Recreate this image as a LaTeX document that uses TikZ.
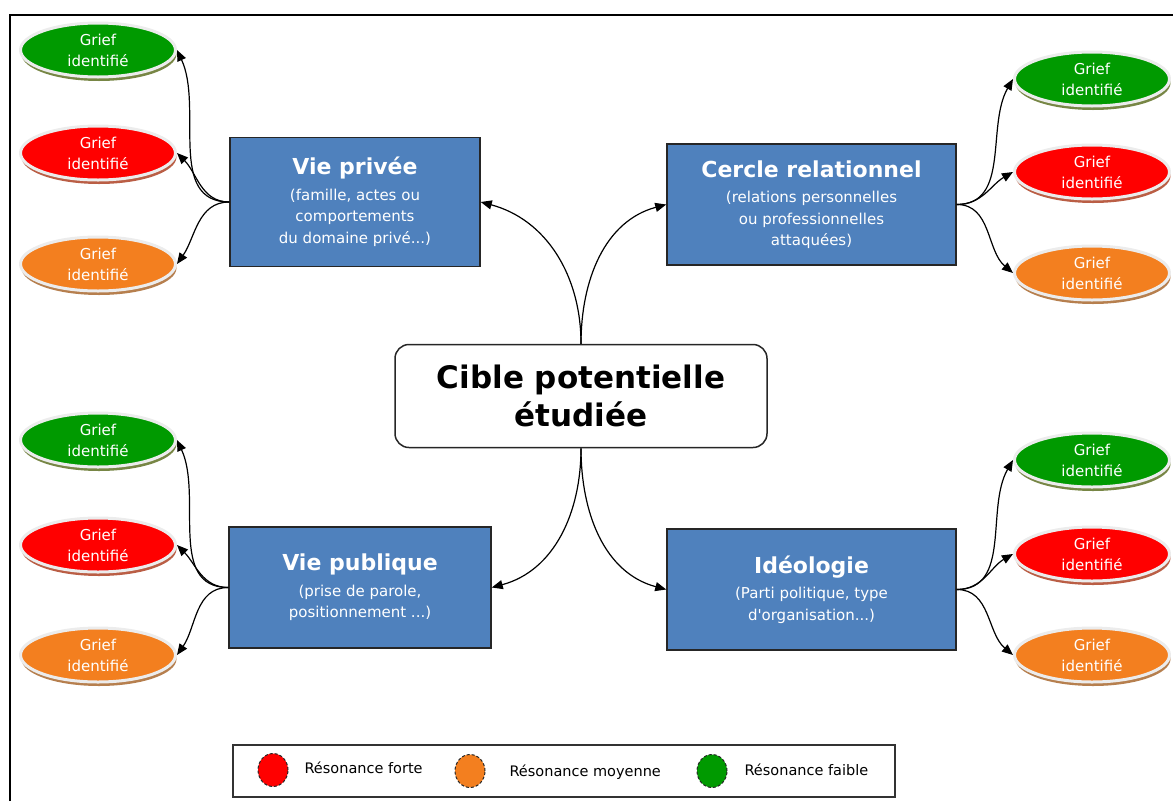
\documentclass[tikz,border=0pt]{standalone}
\usepackage{fontspec}
\setmainfont{DejaVu Sans}[Ligatures=TeXOff]
\usetikzlibrary{shapes.geometric,arrows.meta,shadows}
\definecolor{boxblue}{HTML}{4F81BD}
\definecolor{griefgreen}{HTML}{009A00}
\definecolor{griefred}{HTML}{FF0000}
\definecolor{grieforange}{HTML}{F37F1F}
\definecolor{halo}{HTML}{ECECEC}
\begin{document}
\begin{tikzpicture}[x=1pt,y=1pt,
            bluebox/.style={draw=black!85,fill=boxblue,line width=1.5pt,text=white,align=center,inner sep=4pt,font=\fontsize{15}{21.5}\selectfont},
            grief/.style={ellipse,draw=halo,line width=3pt,fill=#1,text=white,align=center,inner sep=0pt,
                minimum width=155,minimum height=54,font=\fontsize{15}{21}\selectfont,
                drop shadow={shadow xshift=1pt,shadow yshift=-4pt,fill=#1!40!brown!65!gray,opacity=1}},
            arr/.style={-{Triangle[length=11pt,width=9pt]},line width=1.2pt},
            dot/.style={ellipse,draw=black!85,densely dashed,line width=1pt,minimum width=30,minimum height=33,inner sep=0pt,fill=#1},
            lgtext/.style={anchor=west,font=\fontsize{14.5}{16}\selectfont},
        ]
    \useasboundingbox (0,0) rectangle (1173,-801);
    \draw[line width=2pt] (10,-801) -- (10,-15) -- (1173,-15);

    \node[draw=black!85,line width=1.5pt,rounded corners=14pt,minimum width=372,minimum height=103,align=center,
          font=\fontsize{31}{38}\selectfont\bfseries] (cible) at (581,-396) {Cible potentielle\\étudiée};

    \node[bluebox,minimum width=250,minimum height=129] (prive) at (355,-202) {{\fontsize{22}{26}\selectfont\bfseries Vie privée}\\[4pt] (famille, actes ou\\ comportements\\ du domaine privé...)};
    \node[bluebox,minimum width=289,minimum height=121] (cercle) at (811.5,-204.5) {{\fontsize{22}{26}\selectfont\bfseries Cercle relationnel}\\[4pt] (relations personnelles\\ ou professionnelles\\ attaquées)};
    \node[bluebox,minimum width=262,minimum height=121] (public) at (360,-587.5) {{\fontsize{22}{26}\selectfont\bfseries Vie publique}\\[4pt] (prise de parole,\\ positionnement ...)};
    \node[bluebox,minimum width=289,minimum height=121] (ideo) at (811.5,-589.5) {{\fontsize{22}{26}\selectfont\bfseries Idéologie}\\[4pt] (Parti politique, type\\ d'organisation...)};

    \draw[arr] (cible.north) to[out=90,in=-15] (prive.east);
    \draw[arr] (cible.north) to[out=90,in=195] (cercle.west);
    \draw[arr] (cible.south) to[out=-90,in=15] (public.east);
    \draw[arr] (cible.south) to[out=-90,in=165] (ideo.west);

    % vie privee
    \node[grief=griefgreen] (gpv1) at (98,-50) {Grief\\identifié};
    \node[grief=griefred] (gpv2) at (98,-153) {Grief\\identifié};
    \node[grief=grieforange] (gpv3) at (98,-264) {Grief\\identifié};
    \draw[arr] (prive.west) to[out=180,in=-65] (gpv1.east);
    \draw[arr] (prive.west) to[out=180,in=-45] (gpv2.east);
    \draw[arr] (prive.west) to[out=180,in=55] (gpv3.east);

    % cercle relationnel
    \node[grief=griefgreen] (gcr1) at (1092,-79) {Grief\\identifié};
    \node[grief=griefred] (gcr2) at (1092,-172) {Grief\\identifié};
    \node[grief=grieforange] (gcr3) at (1092,-273) {Grief\\identifié};
    \draw[arr] (cercle.east) to[out=0,in=-120] (gcr1.west);
    \draw[arr] (cercle.east) to[out=0,in=210] (gcr2.west);
    \draw[arr] (cercle.east) to[out=0,in=140] (gcr3.west);

    % vie publique
    \node[grief=griefgreen] (gpu1) at (98,-440) {Grief\\identifié};
    \node[grief=griefred] (gpu2) at (98,-545) {Grief\\identifié};
    \node[grief=grieforange] (gpu3) at (98,-655) {Grief\\identifié};
    \draw[arr] (public.west) to[out=180,in=-65] (gpu1.east);
    \draw[arr] (public.west) to[out=180,in=-45] (gpu2.east);
    \draw[arr] (public.west) to[out=180,in=55] (gpu3.east);

    % ideologie
    \node[grief=griefgreen] (gid1) at (1092,-460) {Grief\\identifié};
    \node[grief=griefred] (gid2) at (1092,-554) {Grief\\identifié};
    \node[grief=grieforange] (gid3) at (1092,-655) {Grief\\identifié};
    \draw[arr] (ideo.east) to[out=0,in=-120] (gid1.west);
    \draw[arr] (ideo.east) to[out=0,in=210] (gid2.west);
    \draw[arr] (ideo.east) to[out=0,in=140] (gid3.west);

    % legende
    \node[draw=black!80,line width=1.5pt,minimum width=662,minimum height=52] (legende) at (564,-771) {};
    \node[dot=griefred] (lg1) at (273,-770) {};
    \node[lgtext] (lt1) at (301,-768) {Résonance forte};
    \node[dot=grieforange] (lg2) at (470,-771) {};
    \node[lgtext] (lt2) at (506,-772) {Résonance moyenne};
    \node[dot=griefgreen] (lg3) at (712,-771) {};
    \node[lgtext] (lt3) at (741,-770) {Résonance faible};
\end{tikzpicture}
\end{document}
